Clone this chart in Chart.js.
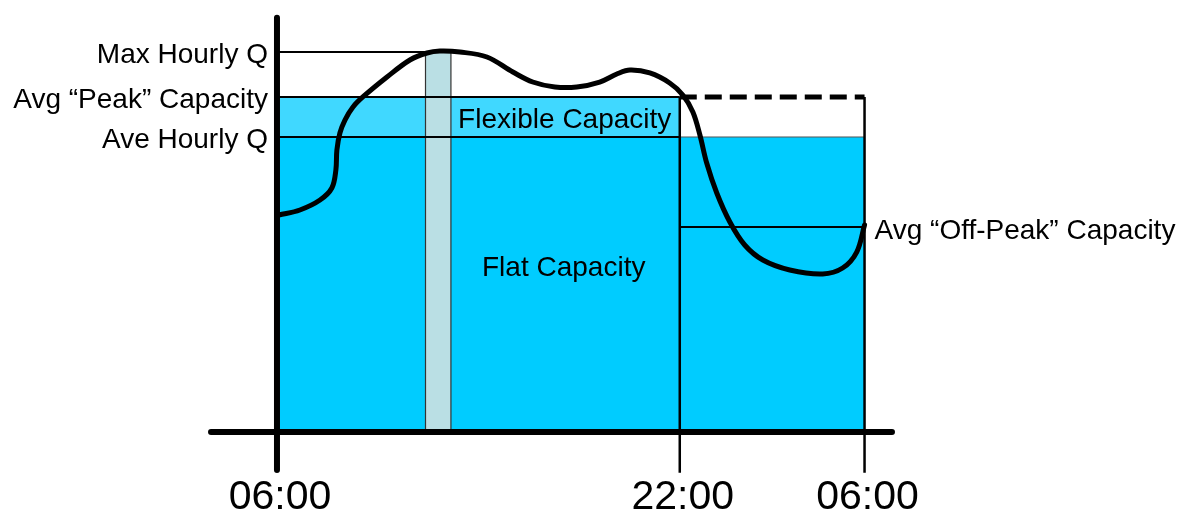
<!DOCTYPE html>
<html><head><meta charset="utf-8">
<script src="https://cdn.jsdelivr.net/npm/chart.js@4"></script>
<style>html,body{margin:0;padding:0;background:#fff;}#wrap{width:1181px;height:511px;}</style>
</head><body><div id="wrap"><canvas id="c" width="1181" height="511"></canvas></div>
<script>
// x: hours-like position after 06:00 (chart units); y: % of max hourly flow
const timeTickValues = [0, 16, 23.34];
const timeTickLabels = ['06:00', '22:00', '06:00'];
const levelNames = ['Max Hourly Q', 'Avg “Peak” Capacity', 'Ave Hourly Q'];
const levelValues = [99.74, 87.93, 77.43];
const offPeakName = 'Avg “Off-Peak” Capacity';
const offPeakValue = 53.81;
const peakEnd = 16;
const dayEnd = 23.34;
const maxBar = [5.9, 6.91];
const maxLineEnd = 6.47;
const areaNames = ['Flexible Capacity', 'Flat Capacity'];
const areaX = [11.43, 11.39];
const areaY = [79.9, 41.0];
const demandX = [0.08,0.91,1.71,2.18,2.34,2.38,2.50,2.70,3.02,3.41,4.37,5.28,5.96,6.47,7.27,8.34,9.37,10.16,11.04,11.91,12.82,13.50,14.02,14.81,15.60,16.12,16.52,16.80,17.07,17.47,17.99,18.58,19.30,20.37,21.68,22.47,23.03,23.34];
const demandY = [56.96,58.27,60.89,64.04,68.77,74.02,78.48,81.89,85.30,87.93,93.18,97.64,99.48,100.0,99.74,98.43,94.49,91.86,90.55,90.55,91.86,93.96,95.01,94.23,91.60,88.45,83.99,77.95,70.60,62.73,55.12,49.08,45.14,42.52,41.47,43.04,47.24,54.33];
const axisRange = {xMin: -2.74, xMax: 24.55, yMin: -10.76, yMax: 109.45};

function seg(x0, y0, x1, y1, opts, order) {
  return Object.assign({
    data: [{x: x0, y: y0}, {x: x1, y: y1}],
    borderColor: '#000', borderWidth: 2, pointRadius: 0, fill: false,
    tension: 0, clip: false, order: order
  }, opts || {});
}

const datasets = [
  // curve (top)
  {data: demandX.map((x, i) => ({x, y: demandY[i]})), borderColor: '#000', borderWidth: 5,
   pointRadius: 0, tension: 0.35, fill: false, clip: false, borderCapStyle: 'round', borderJoinStyle: 'round', order: 0},
  // axes
  seg(0, 108.7, 0, -10.0, {borderWidth: 6, borderCapStyle: 'round'}, 1),
  seg(-2.62, 0, 24.43, 0, {borderWidth: 6, borderCapStyle: 'round'}, 1),
  // dashed peak continuation
  seg(peakEnd, levelValues[1], dayEnd, levelValues[1], {borderWidth: 5, borderDash: [17, 8]}, 2),
  // vertical boundary lines
  seg(peakEnd, levelValues[1], peakEnd, -10.7, {borderWidth: 2.5}, 2),
  seg(dayEnd, levelValues[1], dayEnd, -10.7, {borderWidth: 2.5}, 2),
  // horizontal level lines
  seg(0, levelValues[0], maxLineEnd, levelValues[0], {borderWidth: 2}, 2),
  seg(0, levelValues[1], peakEnd, levelValues[1], {borderWidth: 2}, 2),
  seg(0, levelValues[2], peakEnd, levelValues[2], {borderWidth: 2}, 2),
  seg(peakEnd, levelValues[2], dayEnd, levelValues[2], {borderWidth: 1, borderColor: '#555'}, 2),
  seg(peakEnd, offPeakValue, dayEnd, offPeakValue, {borderWidth: 2}, 2),
  // max-hour bar edges
  seg(maxBar[0], 0, maxBar[0], levelValues[0], {borderWidth: 1.2, borderColor: '#333'}, 3),
  seg(maxBar[1], 0, maxBar[1], levelValues[0], {borderWidth: 1.2, borderColor: '#333'}, 3),
  // max-hour bar fill
  seg(maxBar[0], levelValues[0], maxBar[1], levelValues[0], {borderWidth: 0, fill: 'origin', backgroundColor: '#BADFE4'}, 4),
  // flexible band
  seg(0, levelValues[1], peakEnd, levelValues[1], {borderWidth: 0, fill: {value: levelValues[2]}, backgroundColor: '#40D8FF'}, 5),
  // flat capacity
  seg(0, levelValues[2], dayEnd, levelValues[2], {borderWidth: 0, fill: 'origin', backgroundColor: '#00CCFF'}, 6)
];

const labelPlugin = {
  id: 'labels',
  afterDraw(chart) {
    const ctx = chart.ctx, xs = chart.scales.x, ys = chart.scales.y;
    ctx.save();
    ctx.fillStyle = '#000';
    ctx.textBaseline = 'alphabetic';
    ctx.font = '28px "Liberation Sans", Arial, sans-serif';
    ctx.textAlign = 'right';
    levelNames.forEach((n, i) => {
      ctx.fillText(n, xs.getPixelForValue(0) - 9, ys.getPixelForValue(levelValues[i]) + 11);
    });
    ctx.textAlign = 'left';
    ctx.fillText(offPeakName, xs.getPixelForValue(dayEnd) + 10, ys.getPixelForValue(offPeakValue) + 12);
    ctx.textAlign = 'center';
    areaNames.forEach((n, i) => {
      ctx.fillText(n, xs.getPixelForValue(areaX[i]), ys.getPixelForValue(areaY[i]));
    });
    ctx.font = '41px "Liberation Sans", Arial, sans-serif';
    timeTickValues.forEach((v, i) => {
      ctx.fillText(timeTickLabels[i], xs.getPixelForValue(v) + 3, chart.chartArea.bottom + 36);
    });
    ctx.restore();
  }
};

new Chart(document.getElementById('c'), {
  type: 'line',
  data: {datasets},
  options: {
    responsive: false, animation: false,
    layout: {padding: {left: 208, right: 286, top: 15, bottom: 38}},
    scales: {
      x: {type: 'linear', display: false, min: axisRange.xMin, max: axisRange.xMax},
      y: {type: 'linear', display: false, min: axisRange.yMin, max: axisRange.yMax}
    },
    plugins: {legend: {display: false}, tooltip: {enabled: false}}
  },
  plugins: [labelPlugin]
});
</script></body></html>
